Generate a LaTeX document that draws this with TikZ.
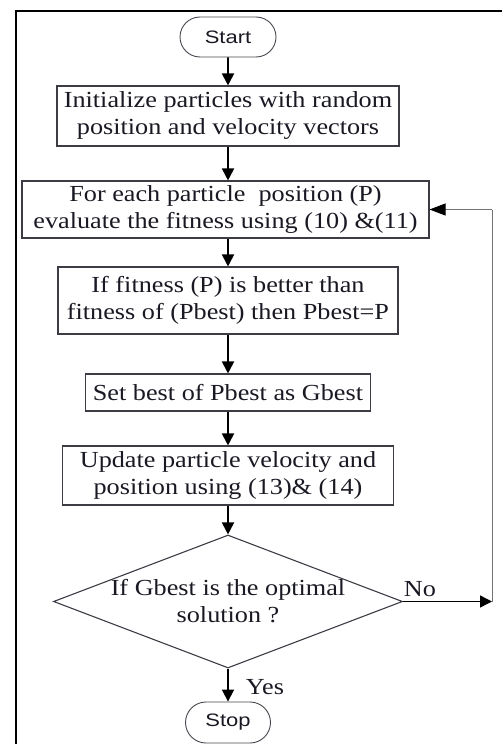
\documentclass[tikz,border=0pt]{standalone}
\usepackage{fontspec}
\usetikzlibrary{shapes.geometric,shapes.misc,arrows.meta}
\newfontfamily\tnr[FakeStretch=1.14]{Liberation Serif}
\newfontfamily\arl[FakeStretch=1.22]{Liberation Sans}
\definecolor{ink}{RGB}{25,25,35}
\begin{document}
\begin{tikzpicture}[x=1pt,y=-1pt,
  box/.style={draw=ink!85,line width=1.1pt,rectangle,inner sep=0pt,align=center,
    text=ink,font=\fontsize{23}{27}\selectfont\tnr},
  term/.style={draw=ink!80,line width=0.9pt,rounded rectangle,inner sep=0pt,
    text=ink,font=\fontsize{18}{20}\selectfont\arl},
  dec/.style={draw=ink!85,line width=1.1pt,diamond,aspect=2.62,inner sep=0pt,align=center,
    text=ink,font=\fontsize{23}{27}\selectfont\tnr},
  flow/.style={draw=black,line width=1.8pt,-{Triangle[length=12pt,width=12pt]}},
  back/.style={draw=black!55,line width=1pt},
  backin/.style={draw=black!55,line width=1pt,-{Triangle[length=16pt,width=12pt,color=black]}},
  lbl/.style={text=ink,font=\fontsize{23}{27}\selectfont\tnr,inner sep=0pt}
]
\useasboundingbox (0,0) rectangle (501,744);
% outer frame (continues beyond the page)
\draw[line width=2pt,black] (16,760) -- (16,11) -- (520,11);

\node[term,minimum width=96pt,minimum height=40pt] (start) at (228,37) {Start};
\node[box,minimum width=342pt,minimum height=60pt] (init) at (228,116)
  {Initialize particles with random\\position and velocity vectors};
\node[box,minimum width=407pt,minimum height=57pt] (eval) at (225.5,209.5)
  {For each particle\ \ position (P)\\evaluate the fitness using (10) \&(11)};
\node[box,minimum width=340pt,minimum height=67pt] (pbest) at (228,300.5)
  {If fitness (P) is better than\\fitness of (Pbest) then Pbest=P};
\node[box,minimum width=285pt,minimum height=37pt] (gbest) at (228,392.5)
  {Set best of Pbest as Gbest};
\node[box,minimum width=331pt,minimum height=59pt] (upd) at (228,475.5)
  {Update particle velocity and\\position using (13)\& (14)};
\node[dec,minimum width=349pt,minimum height=133pt] (opt) at (228,601.5)
  {If Gbest is the optimal\\solution ?};
\node[term,minimum width=85pt,minimum height=41pt] (stop) at (228,722.5) {Stop};

\coordinate (c1) at (492,601.5);
\coordinate (c2) at (492,209.5);

\draw[flow] (start) -- (init);
\draw[flow] (init) -- (init |- eval.north);
\draw[flow] (eval.south -| pbest) -- (pbest);
\draw[flow] (pbest) -- (gbest);
\draw[flow] (gbest) -- (upd);
\draw[flow] (upd) -- (opt);
\draw[flow] (opt) -- (stop);
\draw[flow,line width=1.4pt] (opt.east) -- (c1);
\draw[back] (c1) -- (c2);
\draw[backin] (c2) -- (eval.east);

\node[lbl] (no) at (420,589) {No};
\node[lbl] (yes) at (265,687) {Yes};
\end{tikzpicture}
\end{document}
